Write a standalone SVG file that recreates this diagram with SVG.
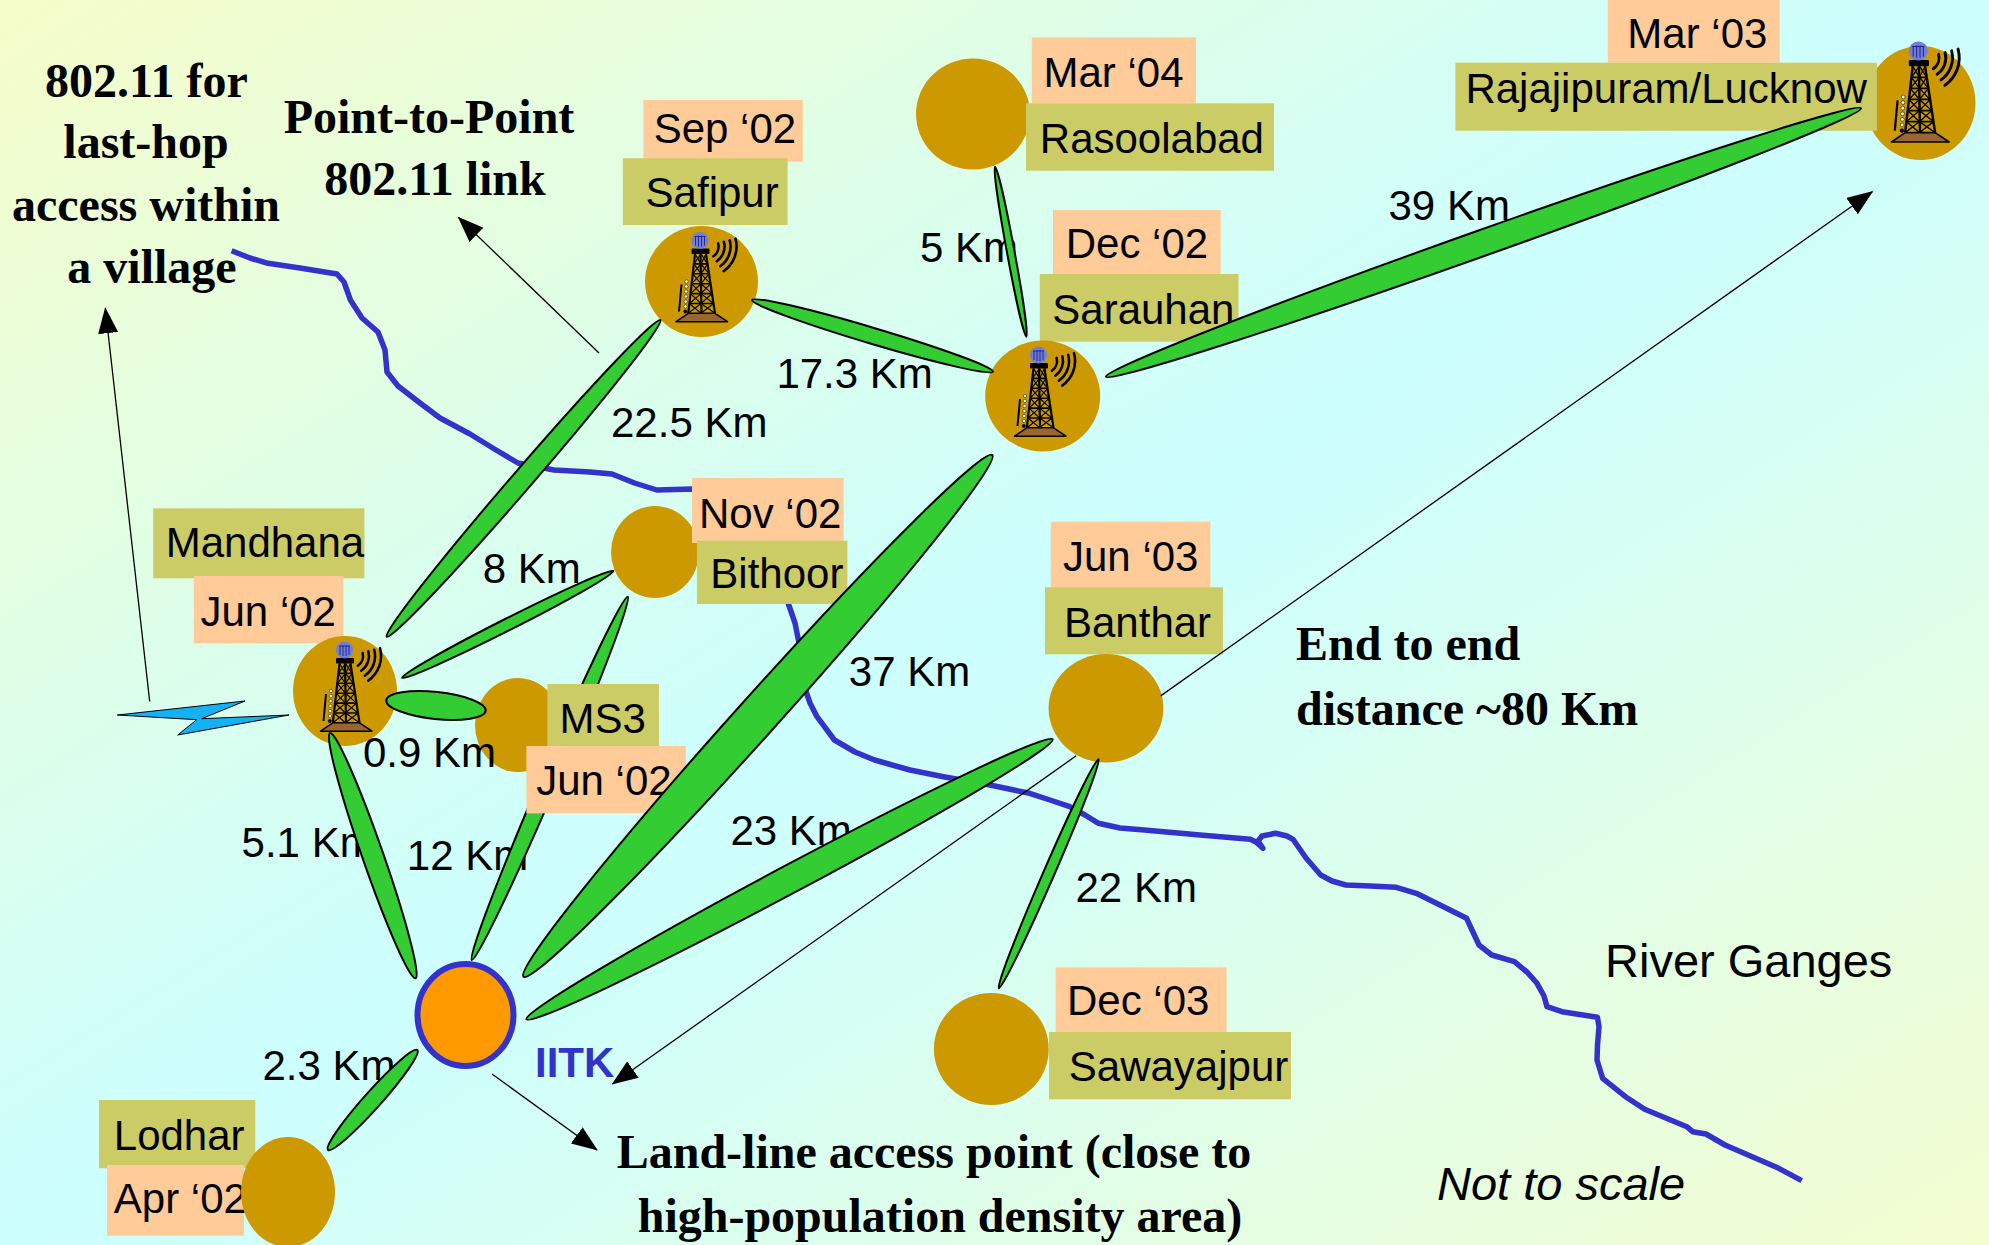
<svg xmlns="http://www.w3.org/2000/svg" width="1989" height="1245" viewBox="0 0 1989 1245">
<style>
  .t { font-family: "Liberation Sans", Arial, sans-serif; font-size: 42px; fill: #000; }
  .big { font-family: "Liberation Sans", Arial, sans-serif; font-size: 47px; fill: #000; }
  .note { font-family: "Liberation Serif", "Times New Roman", serif; font-weight: bold; font-size: 48px; fill: #000; }
  .site { fill: #cc9900; }
  .date { fill: #ffcc99; }
  .name { fill: #cccc66; }
  .link { fill: #33cc33; stroke: #000; stroke-width: 2; }
  .river { fill: none; stroke: #3333cc; stroke-width: 5.5; stroke-linejoin: round; stroke-linecap: butt; }
  .pointer { fill: none; stroke: #000; stroke-width: 1.3; marker-end: url(#head); }
</style>
<defs>
  <linearGradient id="bgGrad" x1="0" y1="0" x2="1" y2="1">
    <stop offset="0" stop-color="#f6fdc9"/>
    <stop offset="0.5" stop-color="#ccffff"/>
    <stop offset="1" stop-color="#f4fdd0"/>
  </linearGradient>
  <marker id="head" viewBox="0 0 26 20" refX="25" refY="10" markerWidth="26" markerHeight="20" markerUnits="userSpaceOnUse" orient="auto-start-reverse">
    <path d="M0,0 L26,10 L0,20 z" fill="#000"/>
  </marker>
  <!-- the IITK-Bithoor link runs underneath the MS3 labels -->
  <mask id="underMS3" maskUnits="userSpaceOnUse" x="0" y="0" width="1989" height="1245">
    <rect width="1989" height="1245" fill="#fff"/>
    <rect x="547.4" y="684" width="111.6" height="63" fill="#000"/>
    <rect x="526.4" y="746" width="159.4" height="67.3" fill="#000"/>
  </mask>
  <!-- lattice radio tower with antenna dome and waves, centred on (0,0) -->
  <g id="tower">
    <path d="M16.6,-38.1 A12,12 0 0 1 11.9,-25.2 M22.4,-39.7 A18,18 0 0 1 15.3,-20.3 M28.2,-41.2 A24,24 0 0 1 18.8,-15.3 M34,-42.8 A30,30 0 0 1 22.2,-10.4" fill="none" stroke="#000" stroke-width="2.6" stroke-linecap="round"/>
    <path d="M-20,3 L-22.5,30" stroke="#000" stroke-width="2"/>
    <g fill="#fffbd0" stroke="#000" stroke-width="0.5">
      <circle cx="-15" cy="0" r="1.7"/>
      <circle cx="-15.2" cy="5" r="1.7"/>
      <circle cx="-15.4" cy="10" r="1.7"/>
      <circle cx="-15.6" cy="15" r="1.7"/>
      <circle cx="-15.8" cy="20" r="1.7"/>
      <circle cx="-16" cy="25" r="1.7"/>
      <circle cx="-16.2" cy="30" r="1.7" fill="#000"/>
    </g>
    <path d="M-6.5,-27.5 L-13.2,31.8 M4.5,-27.5 L13.5,31.8 M-1,-27.5 L0,31.8" stroke="#000" stroke-width="2.2" fill="none"/>
    <path d="M-7.62,-17.6 H6 M-8.74,-7.7 H7.5 M-9.86,2.2 H9 M-10.98,12.1 H10.5 M-12.09,22 H12" stroke="#000" stroke-width="1.6" fill="none"/>
    <path d="M-6.5,-27.5 L-0.5,-17.6 M-0.5,-27.5 L-7.62,-17.6 M4.5,-27.5 L-0.5,-17.6 M-0.5,-27.5 L6,-17.6
             M-7.62,-17.6 L-0.5,-7.7 M-0.5,-17.6 L-8.74,-7.7 M6,-17.6 L-0.5,-7.7 M-0.5,-17.6 L7.5,-7.7
             M-8.74,-7.7 L-0.5,2.2 M-0.5,-7.7 L-9.86,2.2 M7.5,-7.7 L-0.5,2.2 M-0.5,-7.7 L9,2.2
             M-9.86,2.2 L-0.5,12.1 M-0.5,2.2 L-10.98,12.1 M9,2.2 L-0.5,12.1 M-0.5,2.2 L10.5,12.1
             M-10.98,12.1 L-0.5,22 M-0.5,12.1 L-12.09,22 M10.5,12.1 L-0.5,22 M-0.5,12.1 L12,22
             M-12.09,22 L-0.5,31.8 M-0.5,22 L-13.2,31.8 M12,22 L-0.5,31.8 M-0.5,22 L13.5,31.8" stroke="#000" stroke-width="1.2" fill="none"/>
    <polygon points="-13.2,31.8 13.5,31.8 26,40.2 -25.5,40.2" fill="#996633" stroke="#000" stroke-width="1.5" stroke-linejoin="round"/>
    <rect x="-3" y="-35" width="3" height="3" fill="#000"/>
    <rect x="-10" y="-33" width="18" height="5.5" rx="1" fill="#000"/>
    <circle cx="-1.5" cy="-41" r="8.5" fill="#6d7ee0"/>
    <path d="M-6,-45 V-36 M-3,-46 V-35 M0,-46 V-35 M3,-45 V-36 M-7,-45 H4" stroke="#22226e" stroke-width="0.9" fill="none"/>
  </g>
</defs>

<!-- background -->
<rect x="0" y="0" width="1989" height="1245" fill="url(#bgGrad)"/>

<!-- River Ganges -->
<g id="river">
  <path class="river" d="M231.6,250.7 L250,258 L268,263.3 L300,268 L337,274 L344,282 L350.4,300 L362,318 L378,332 L385,350 L387,372 L398,386 L420,403 L440,418 L470,434 L496,450 L518,463 L554,470 L590,472 L612,474 L634.5,483 L656.8,490 L692.5,489 L730,492 L765,520 L784,560 L788.4,604 L795,623 L799,643 L801,665 L803,683 L810,703 L817,716.7 L834.4,740 L855,752 L874.6,760 L910,770 L943.5,776.7 L990,785 L1029.6,793.3 L1050,800 L1069.8,806.7 L1085,815 L1098.5,823.3 L1120,828 L1144.4,830 L1200,835 L1250.3,839.3 L1256,842 L1262.9,848.3 L1258,841 L1262,836 L1275.5,833.3 L1287,836 L1293,839.3 L1306,858 L1320.7,875 L1332,881 L1345.9,885 L1370,886 L1396.2,887.3 L1416.3,893.3 L1440,905 L1466.6,918.3 L1472,930 L1479,945 L1491.7,955 L1514.4,961.7 L1527,972 L1537,983.3 L1544,996 L1547,1006.7 L1562,1011.7 L1597.4,1017.3 L1599,1026.7 L1597.5,1045 L1597,1060 L1602.6,1078.3 L1625.5,1096.7 L1644.7,1109.3 L1686.8,1126.7 L1692.6,1131.7 L1706,1134 L1725,1145 L1778.8,1168.3 L1801.7,1180.7"/>
  <text class="big" x="1605" y="977">River Ganges</text>
</g>

<!-- sites -->
<g id="node-safipur">
  <rect class="date" x="643.4" y="100" width="159.4" height="61.7"/>
  <rect class="name" x="622.9" y="158.3" width="164.7" height="66.7"/>
  <text class="t" x="653.7" y="142.7">Sep &#8216;02</text>
  <text class="t" x="645.6" y="207.3">Safipur</text>
  <ellipse class="site" cx="701.5" cy="281.5" rx="56.5" ry="55.5"/>
  <use href="#tower" transform="translate(701.5,281.5)"/>
</g>

<g id="node-rasoolabad">
  <ellipse class="site" cx="973" cy="114" rx="57" ry="55.5"/>
  <rect class="date" x="1031.8" y="37.3" width="164.2" height="66"/>
  <rect class="name" x="1026" y="103.3" width="248" height="67.4"/>
  <text class="t" x="1043.5" y="87">Mar &#8216;04</text>
  <text class="t" x="1039.8" y="152.7">Rasoolabad</text>
</g>

<g id="node-sarauhan">
  <rect class="date" x="1053" y="210" width="167.6" height="65"/>
  <rect class="name" x="1039.8" y="274" width="198.7" height="67.7"/>
  <text class="t" x="1065.7" y="258.3">Dec &#8216;02</text>
  <text class="t" x="1052.3" y="324">Sarauhan</text>
  <ellipse class="site" cx="1042.7" cy="396" rx="57.5" ry="55.5"/>
  <use href="#tower" transform="translate(1040,396)"/>
</g>

<g id="node-lucknow">
  <ellipse class="site" cx="1920.5" cy="103" rx="55" ry="57"/>
  <rect class="date" x="1607.8" y="-5" width="171.9" height="67.7"/>
  <rect class="name" x="1455.4" y="62.7" width="421.5" height="68"/>
  <text class="t" x="1627.3" y="48.3">Mar &#8216;03</text>
  <text class="t" x="1465.4" y="102.7">Rajajipuram/Lucknow</text>
  <use href="#tower" transform="translate(1920,97) scale(1.12)"/>
</g>

<g id="node-mandhana">
  <rect class="name" x="153.2" y="508.3" width="211.2" height="70"/>
  <rect class="date" x="193.8" y="576" width="149.6" height="67.3"/>
  <text class="t" x="165.7" y="557.3">Mandhana</text>
  <text class="t" x="200.5" y="626">Jun &#8216;02</text>
  <ellipse class="site" cx="345" cy="691" rx="52" ry="55"/>
  <use href="#tower" transform="translate(346,691)"/>
  <polygon points="117.3,715 245,701 201.7,718.7 289,715 177.7,735 196.7,719.7" fill="#14b2f5" stroke="#000" stroke-width="1" stroke-linejoin="miter"/>
</g>

<g id="node-bithoor">
  <ellipse class="site" cx="655" cy="552" rx="44" ry="46"/>
  <rect class="date" x="692" y="478" width="151.6" height="65"/>
  <rect class="name" x="697" y="540.7" width="150.4" height="63.3"/>
  <text class="t" x="699" y="528.3">Nov &#8216;02</text>
  <text class="t" x="710.3" y="588.3">Bithoor</text>
</g>

<g id="node-ms3">
  <ellipse class="site" cx="518" cy="725" rx="43" ry="47"/>
  <rect class="name" x="547.4" y="684" width="111.6" height="63"/>
  <rect class="date" x="526.4" y="746" width="159.4" height="67.3"/>
  <text class="t" x="559.4" y="732.7">MS3</text>
  <text class="t" x="536.2" y="795">Jun &#8216;02</text>
</g>

<g id="node-banthar">
  <rect class="date" x="1050.8" y="521.7" width="159.6" height="66.6"/>
  <rect class="name" x="1045" y="587.3" width="178" height="67"/>
  <text class="t" x="1063" y="570.7">Jun &#8216;03</text>
  <text class="t" x="1064" y="636.7">Banthar</text>
  <ellipse class="site" cx="1106" cy="708.3" rx="57.4" ry="54.3"/>
</g>

<g id="node-sawayajpur">
  <ellipse class="site" cx="991.3" cy="1049" rx="57.4" ry="56"/>
  <rect class="date" x="1055.6" y="967.3" width="171.1" height="65.4"/>
  <rect class="name" x="1049" y="1032" width="242" height="67.3"/>
  <text class="t" x="1067" y="1015">Dec &#8216;03</text>
  <text class="t" x="1068.8" y="1081">Sawayajpur</text>
</g>

<g id="node-lodhar">
  <rect class="name" x="99" y="1100" width="156.3" height="68.3"/>
  <rect class="date" x="107" y="1165" width="137" height="70.7"/>
  <text class="t" x="113.8" y="1150">Lodhar</text>
  <text class="t" x="113.8" y="1213.3">Apr &#8216;02</text>
  <ellipse class="site" cx="288" cy="1192" rx="47" ry="55"/>
</g>

<g id="node-iitk">
  <ellipse cx="465.5" cy="1015" rx="48" ry="51" fill="#ff9900" stroke="#3333cc" stroke-width="6"/>
  <text x="535" y="1076.7" style="font-family:'Liberation Sans',Arial,sans-serif;font-size:42px;font-weight:bold;fill:#3333cc">IITK</text>
</g>

<!-- wireless links and their distances -->
<g id="connectors">
  <g id="distances">
    <text class="t" x="920" y="261.7">5 Km</text>
    <text class="t" x="776.4" y="388.3">17.3 Km</text>
    <text class="t" x="611" y="436.7">22.5 Km</text>
    <text class="t" x="1388.5" y="220">39 Km</text>
    <text class="t" x="482.7" y="583.3">8 Km</text>
    <text class="t" x="363" y="766.7">0.9 Km</text>
    <text class="t" x="241.6" y="856.7">5.1 Km</text>
    <text class="t" x="406.8" y="870">12 Km</text>
    <text class="t" x="848.8" y="686">37 Km</text>
    <text class="t" x="730.4" y="845">23 Km</text>
    <text class="t" x="1075.5" y="902">22 Km</text>
    <text class="t" x="262.5" y="1080">2.3 Km</text>
  </g>
  <g mask="url(#underMS3)">
    <ellipse id="link-iitk-bithoor" class="link" transform="translate(549.8,778.35) rotate(-66.76)" rx="197.7" ry="8.5"/>
  </g>
  <ellipse id="link-safipur-mandhana" class="link" transform="translate(523.55,478.35) rotate(-49.17)" rx="209.3" ry="10"/>
  <ellipse id="link-safipur-sarauhan" class="link" transform="translate(872.5,335.85) rotate(16.57)" rx="125.7" ry="8"/>
  <ellipse id="link-rasoolabad-sarauhan" class="link" transform="translate(1010.7,251.7) rotate(79.54)" rx="86.4" ry="3.8"/>
  <ellipse id="link-sarauhan-lucknow" class="link" transform="translate(1483.5,242.5) rotate(-19.57)" rx="400.7" ry="13"/>
  <ellipse id="link-mandhana-bithoor" class="link" transform="translate(507.85,624.35) rotate(-26.81)" rx="118.3" ry="6"/>
  <ellipse id="link-mandhana-ms3" class="link" transform="translate(436,705.5) rotate(6)" rx="50" ry="13.5"/>
  <ellipse id="link-mandhana-iitk" class="link" transform="translate(372.8,855.65) rotate(70.77)" rx="129.9" ry="10.5"/>
  <ellipse id="link-iitk-sarauhan" class="link" transform="translate(757.9,715.85) rotate(-48.06)" rx="350.7" ry="20"/>
  <ellipse id="link-iitk-banthar" class="link" transform="translate(789.5,879.3) rotate(-28.02)" rx="298" ry="14"/>
  <ellipse id="link-banthar-sawayajpur" class="link" transform="translate(1048.65,873.8) rotate(113.53)" rx="124.9" ry="5.5"/>
  <ellipse id="link-iitk-lodhar" class="link" transform="translate(372.7,1100) rotate(-48.2)" rx="67" ry="8.5"/>

  <!-- annotation pointers -->
  <path class="pointer" d="M149.7,701.5 L105.3,308.2"/>
  <path class="pointer" d="M599,353 L458.5,217.5"/>
  <path class="pointer" d="M492,1074 L597,1150"/>
  <path d="M612.5,1084 L1076.2,755.8 M1160.7,695.9 L1872.4,191.7" fill="none" stroke="#000" stroke-width="1.3" marker-start="url(#head)" marker-end="url(#head)"/>
</g>

<!-- notes -->
<g id="notes">
  <text class="note" text-anchor="middle">
    <tspan x="152" y="96.7">802.11 for</tspan>
    <tspan x="152" y="158.3">last-hop</tspan>
    <tspan x="152" y="221">access within</tspan>
    <tspan x="152" y="283.3">a village</tspan>
  </text>
  <text class="note" text-anchor="middle">
    <tspan x="435" y="132.7">Point-to-Point</tspan>
    <tspan x="435" y="195">802.11 link</tspan>
  </text>
  <text class="note">
    <tspan x="1296" y="660">End to end</tspan>
    <tspan x="1296" y="725">distance ~80 Km</tspan>
  </text>
  <text class="note" text-anchor="middle">
    <tspan x="940" y="1168.3">Land-line access point (close to</tspan>
    <tspan x="940" y="1231.7">high-population density area)</tspan>
  </text>
  <text class="big" x="1437" y="1200" font-style="italic">Not to scale</text>
</g>
</svg>
